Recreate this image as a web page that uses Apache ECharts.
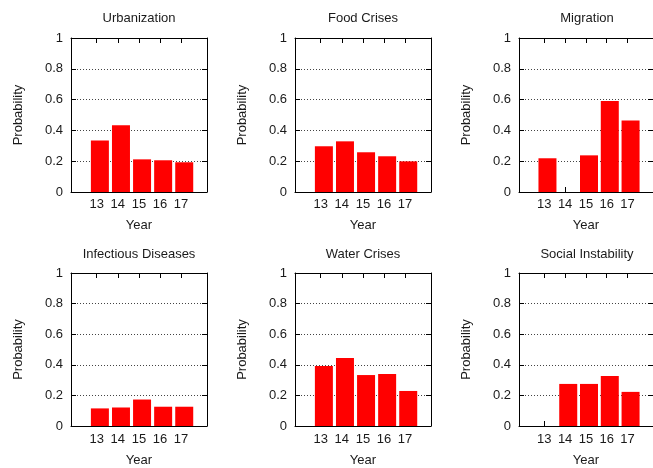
<!DOCTYPE html>
<html>
<head>
<meta charset="utf-8">
<script src="https://cdn.jsdelivr.net/npm/echarts@6/dist/echarts.min.js"></script>
<style>
html,body{margin:0;padding:0;background:#fff;}
#chart{width:653px;height:468px;}
</style>
</head>
<body>
<div id="chart"></div>
<script>
// ---- data ----
const years = ['13', '14', '15', '16', '17'];
const titles = ['Urbanization', 'Food Crises', 'Migration', 'Infectious Diseases', 'Water Crises', 'Social Instability'];
const urbanization = [0.335, 0.433, 0.212, 0.206, 0.193];
const foodCrises = [0.297, 0.329, 0.258, 0.232, 0.199];
const migration = [0.219, 0, 0.238, 0.591, 0.465];
const infectiousDiseases = [0.115, 0.121, 0.173, 0.126, 0.126];
const waterCrises = [0.392, 0.444, 0.333, 0.340, 0.229];
const socialInstability = [0, 0.275, 0.275, 0.327, 0.223];
const yTicks = [0, 0.2, 0.4, 0.6, 0.8, 1];

const panels = [urbanization, foodCrises, migration, infectiousDiseases, waterCrises, socialInstability];

// ---- layout / style ----
const FONT = "'Liberation Sans', Arial, sans-serif";
const TXT = '#1a1a1a';
const colLeft = [71, 295, 519];
const rowTop = [38, 273];
const titleOffset = [26, 25];
const labelMargin = [6, 7];
const nameGapX = [27, 28];
const GW = 136, GH = 154;
const TICK_SHIFT = -0.15;   // gnuplot histogram tick offset relative to bar centre
const X_MIN = -1.37, X_MAX = 5.08;
const tickPos = years.map((y, i) => i + TICK_SHIFT);

const grids = [], xAxes = [], yAxes = [], series = [], titleArr = [];
panels.forEach((vals, g) => {
  const row = Math.floor(g / 3);
  const left = colLeft[g % 3], top = rowTop[row];
  grids.push({left: left, top: top, width: GW, height: GH, containLabel: false});
  titleArr.push({
    text: titles[g], left: left + GW / 2, top: top - titleOffset[row], textAlign: 'center', padding: 0,
    textStyle: {fontFamily: FONT, fontSize: 13, fontWeight: 'normal', color: TXT}
  });
  const xBase = {
    gridIndex: g, type: 'value', min: X_MIN, max: X_MAX,
    axisLine: {show: true, onZero: false, lineStyle: {color: '#000', width: 1}},
    axisTick: {show: true, inside: true, length: 5, customValues: tickPos, lineStyle: {color: '#000'}},
    splitLine: {show: false}
  };
  xAxes.push(Object.assign({}, xBase, {
    position: 'bottom',
    axisLabel: {
      show: true, customValues: tickPos, margin: labelMargin[row], fontFamily: FONT, fontSize: 13, color: TXT,
      formatter: v => years[Math.round(v - TICK_SHIFT)]
    },
    name: 'Year', nameLocation: 'middle', nameGap: nameGapX[row],
    nameTextStyle: {fontFamily: FONT, fontSize: 13, color: TXT}
  }));
  xAxes.push(Object.assign({}, xBase, {position: 'top', axisLabel: {show: false}}));
  const yBase = {
    gridIndex: g, type: 'value', min: 0, max: 1, interval: 0.2,
    axisLine: {show: true, onZero: false, lineStyle: {color: '#000', width: 1}},
    axisTick: {show: true, inside: true, length: 5, lineStyle: {color: '#000'}}
  };
  yAxes.push(Object.assign({}, yBase, {
    position: 'left',
    axisLabel: {show: true, margin: 8, fontFamily: FONT, fontSize: 13, color: TXT,
      formatter: v => String(Math.round(v * 10) / 10)},
    splitLine: {show: true, lineStyle: {color: '#444', type: [1, 2], width: 1}},
    name: 'Probability', nameLocation: 'middle', nameGap: 46, nameRotate: 90,
    nameTextStyle: {fontFamily: FONT, fontSize: 13, color: TXT}
  }));
  yAxes.push(Object.assign({}, yBase, {position: 'right', axisLabel: {show: false}, splitLine: {show: false}}));
  series.push({
    type: 'bar', xAxisIndex: 2 * g, yAxisIndex: 2 * g,
    data: vals.map((v, i) => [i, v]),
    barWidth: 18, itemStyle: {color: '#ff0000'}, silent: true, animation: false
  });
});

const chart = echarts.init(document.getElementById('chart'), null, {renderer: 'canvas'});
chart.setOption({
  animation: false,
  backgroundColor: '#fff',
  title: titleArr,
  grid: grids,
  xAxis: xAxes,
  yAxis: yAxes,
  series: series
});
</script>
</body>
</html>
